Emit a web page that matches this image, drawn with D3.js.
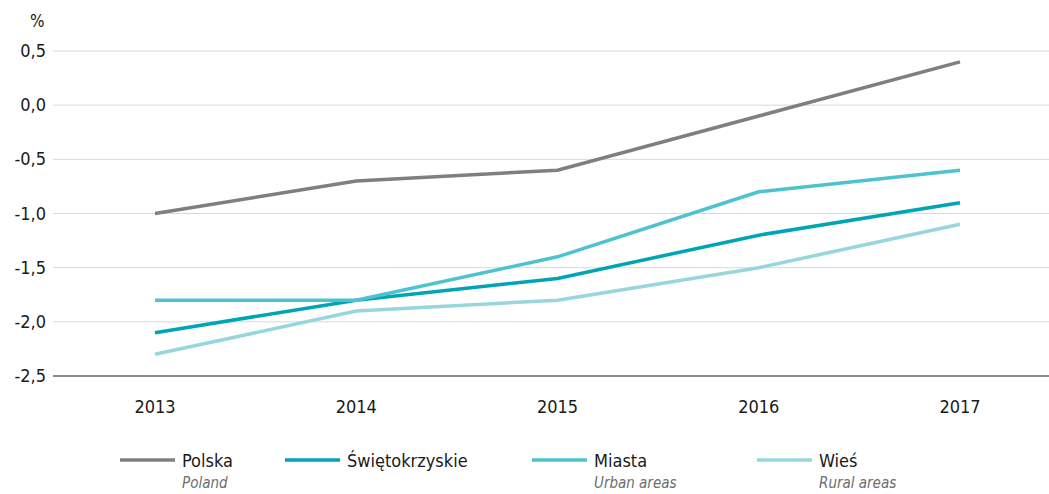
<!DOCTYPE html>
<html>
<head>
<meta charset="utf-8">
<script src="https://cdn.jsdelivr.net/npm/d3@7"></script>
<style>
  body { margin: 0; background: #fff; }
  svg text { font-family: "Liberation Sans Narrow", "DejaVu Sans Condensed", "Roboto", sans-serif; fill: #1a1a1a; }
</style>
</head>
<body>
<svg id="chart" width="1049" height="494"></svg>
<script>
// data
const years = ["2013", "2014", "2015", "2016", "2017"];
const polska = [-1.0, -0.7, -0.6, -0.1, 0.4];
const swietokrzyskie = [-2.1, -1.8, -1.6, -1.2, -0.9];
const miasta = [-1.8, -1.8, -1.4, -0.8, -0.6];
const wies = [-2.3, -1.9, -1.8, -1.5, -1.1];
const yTicks = [-2.5, -2.0, -1.5, -1.0, -0.5, 0.0, 0.5];

const series = [
    { name: "Polska", sub: "Poland", values: polska, color: "#7f7f82", lx: 120 },
    { name: "Świętokrzyskie", sub: "", values: swietokrzyskie, color: "#00a5b5", lx: 285 },
    { name: "Miasta", sub: "Urban areas", values: miasta, color: "#4cc3cf", lx: 532 },
    { name: "Wieś", sub: "Rural areas", values: wies, color: "#98d6de", lx: 757 }
];

const svg = d3.select("#chart");
const x0 = 53, x1 = 1049;

const x = d3.scalePoint().domain(years).range([155, 960]);
const y = d3.scaleLinear().domain([-2.5, 0.5]).range([376, 51]);

// gridlines
svg.append("g").selectAll("line")
    .data(yTicks.slice(1))
    .enter().append("line")
    .attr("x1", x0).attr("x2", x1)
    .attr("y1", d => y(d)).attr("y2", d => y(d))
    .attr("stroke", "#d9d9d9").attr("stroke-width", 1);

// base axis
svg.append("line")
    .attr("x1", x0).attr("x2", x1)
    .attr("y1", y(-2.5)).attr("y2", y(-2.5))
    .attr("stroke", "#1a1a1a").attr("stroke-width", 1.2);

const fmt = d => d.toFixed(1).replace(".", ",");

svg.append("g").selectAll("text")
    .data(yTicks)
    .enter().append("text")
    .attr("x", 46).attr("y", d => y(d) + 6)
    .attr("text-anchor", "end")
    .attr("font-size", 18)
    .text(fmt);

svg.append("text").attr("x", 30).attr("y", 27).attr("font-size", 17).text("%");

svg.append("g").selectAll("text")
    .data(years)
    .enter().append("text")
    .attr("x", d => x(d)).attr("y", 413)
    .attr("text-anchor", "middle")
    .attr("font-size", 18)
    .text(d => d);

const line = d3.line()
    .x((d, i) => x(years[i]))
    .y(d => y(d));

svg.append("g").selectAll("path")
    .data(series)
    .enter().append("path")
    .attr("d", d => line(d.values))
    .attr("fill", "none")
    .attr("stroke", d => d.color)
    .attr("stroke-width", 3.5);

// legend
const leg = svg.append("g").selectAll("g")
    .data(series)
    .enter().append("g");

leg.append("line")
    .attr("x1", d => d.lx).attr("x2", d => d.lx + 55)
    .attr("y1", 460).attr("y2", 460)
    .attr("stroke", d => d.color).attr("stroke-width", 3.5);

leg.append("text")
    .attr("x", d => d.lx + 62).attr("y", 467)
    .attr("font-size", 18)
    .text(d => d.name);

leg.append("text")
    .attr("x", d => d.lx + 62).attr("y", 488)
    .attr("font-size", 15)
    .attr("font-style", "italic")
    .style("fill", "#6d6d6d")
    .text(d => d.sub);
</script>
</body>
</html>
